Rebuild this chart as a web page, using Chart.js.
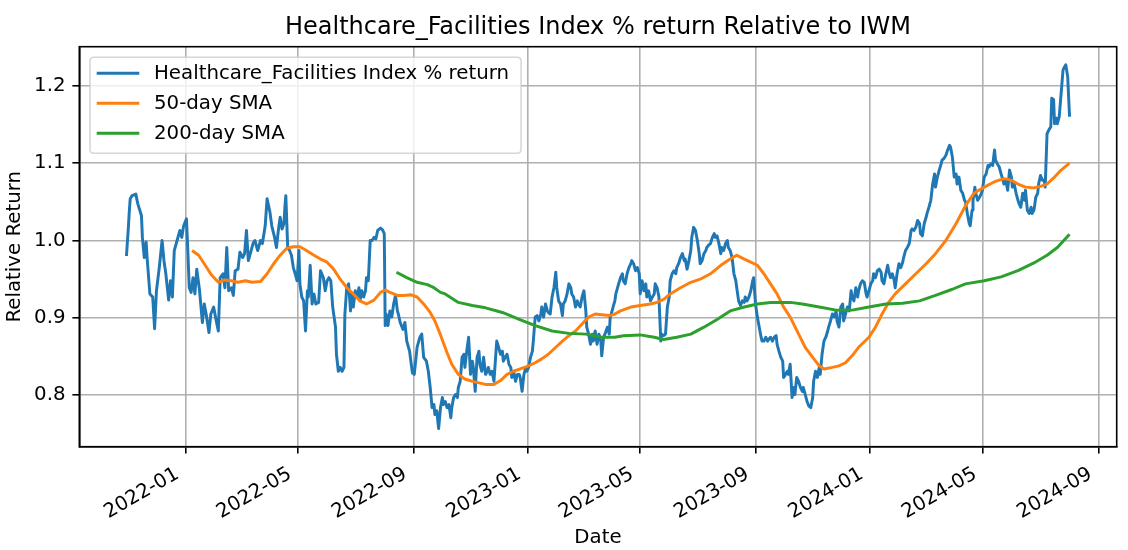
<!DOCTYPE html>
<html>
<head>
<meta charset="utf-8">
<script src="https://cdn.jsdelivr.net/npm/chart.js@4.4.0/dist/chart.umd.min.js"></script>
<style>
html,body{margin:0;padding:0;background:#ffffff;}
#wrap{width:1128px;height:550px;}
</style>
</head>
<body>
<div id="wrap"><canvas id="c" width="1128" height="550"></canvas></div>
<script>
const chartTitle = 'Healthcare_Facilities Index % return Relative to IWM';
const seriesLabels = ['Healthcare_Facilities Index % return', '50-day SMA', '200-day SMA'];
const xAxisTitle = 'Date';
const yAxisTitle = 'Relative Return';
const xTickLabels = ['2022-01','2022-05','2022-09','2023-01','2023-05','2023-09','2024-01','2024-05','2024-09'];
const yTickValues = [0.8, 0.9, 1.0, 1.1, 1.2];

const indexDates = [
'2021-10-30','2021-11-01','2021-11-02','2021-11-03','2021-11-05','2021-11-09','2021-11-11','2021-11-15','2021-11-16','2021-11-18',
'2021-11-20','2021-11-21','2021-11-24','2021-11-27','2021-11-29','2021-12-01','2021-12-04','2021-12-07','2021-12-09','2021-12-11',
'2021-12-14','2021-12-16','2021-12-18','2021-12-20','2021-12-23','2021-12-26','2021-12-28','2021-12-30','2022-01-02','2022-01-03',
'2022-01-05','2022-01-07','2022-01-09','2022-01-11','2022-01-13','2022-01-16','2022-01-19','2022-01-21','2022-01-23','2022-01-26',
'2022-01-28','2022-01-31','2022-02-02','2022-02-05','2022-02-07','2022-02-10','2022-02-12','2022-02-14','2022-02-16','2022-02-19',
'2022-02-21','2022-02-23','2022-02-26','2022-02-28','2022-03-03','2022-03-05','2022-03-07','2022-03-09','2022-03-12','2022-03-14',
'2022-03-16','2022-03-19','2022-03-22','2022-03-24','2022-03-27','2022-03-29','2022-04-01','2022-04-03','2022-04-06','2022-04-08',
'2022-04-10','2022-04-12','2022-04-14','2022-04-16','2022-04-17','2022-04-18','2022-04-20','2022-04-22','2022-04-24','2022-04-26',
'2022-04-28','2022-04-30','2022-05-02','2022-05-03','2022-05-05','2022-05-07','2022-05-09','2022-05-11','2022-05-12','2022-05-14',
'2022-05-16','2022-05-18','2022-05-20','2022-05-23','2022-05-25','2022-05-28','2022-05-30','2022-06-01','2022-06-03','2022-06-05',
'2022-06-07','2022-06-10','2022-06-11','2022-06-13','2022-06-15','2022-06-17','2022-06-19','2022-06-20','2022-06-22','2022-06-24',
'2022-06-26','2022-06-27','2022-06-29','2022-07-01','2022-07-03','2022-07-05','2022-07-06','2022-07-08','2022-07-10','2022-07-12',
'2022-07-13','2022-07-15','2022-07-17','2022-07-19','2022-07-21','2022-07-23','2022-07-25','2022-07-28','2022-07-30','2022-08-01',
'2022-08-02','2022-08-03','2022-08-05','2022-08-07','2022-08-09','2022-08-11','2022-08-13','2022-08-15','2022-08-16','2022-08-18',
'2022-08-21','2022-08-23','2022-08-25','2022-08-28','2022-08-31','2022-09-02','2022-09-05','2022-09-08','2022-09-10','2022-09-12',
'2022-09-15','2022-09-17','2022-09-19','2022-09-21','2022-09-23','2022-09-24','2022-09-26','2022-09-28','2022-09-30','2022-10-02',
'2022-10-03','2022-10-05','2022-10-07','2022-10-09','2022-10-11','2022-10-12','2022-10-14','2022-10-16','2022-10-18','2022-10-19',
'2022-10-21','2022-10-23','2022-10-25','2022-10-26','2022-10-28','2022-10-30','2022-11-01','2022-11-03','2022-11-04','2022-11-06',
'2022-11-08','2022-11-10','2022-11-11','2022-11-13','2022-11-15','2022-11-17','2022-11-19','2022-11-20','2022-11-22','2022-11-24',
'2022-11-26','2022-11-28','2022-11-29','2022-12-01','2022-12-03','2022-12-05','2022-12-06','2022-12-08','2022-12-10','2022-12-12',
'2022-12-14','2022-12-15','2022-12-17','2022-12-19','2022-12-21','2022-12-23','2022-12-24','2022-12-26','2022-12-28','2022-12-30',
'2022-12-31','2023-01-02','2023-01-04','2023-01-06','2023-01-07','2023-01-09','2023-01-11','2023-01-13','2023-01-15','2023-01-16',
'2023-01-18','2023-01-20','2023-01-22','2023-01-23','2023-01-25','2023-01-27','2023-01-29','2023-01-31','2023-02-01','2023-02-03',
'2023-02-05','2023-02-07','2023-02-08','2023-02-10','2023-02-12','2023-02-14','2023-02-16','2023-02-17','2023-02-19','2023-02-21',
'2023-02-23','2023-02-24','2023-02-26','2023-02-28','2023-03-02','2023-03-04','2023-03-05','2023-03-07','2023-03-09','2023-03-11',
'2023-03-12','2023-03-14','2023-03-16','2023-03-18','2023-03-20','2023-03-21','2023-03-23','2023-03-25','2023-03-27','2023-03-29',
'2023-03-30','2023-04-01','2023-04-03','2023-04-04','2023-04-05','2023-04-08','2023-04-10','2023-04-12','2023-04-13','2023-04-15',
'2023-04-17','2023-04-19','2023-04-21','2023-04-22','2023-04-24','2023-04-26','2023-04-28','2023-04-30','2023-05-01','2023-05-03',
'2023-05-05','2023-05-07','2023-05-08','2023-05-10','2023-05-12','2023-05-14','2023-05-16','2023-05-17','2023-05-19','2023-05-21',
'2023-05-23','2023-05-24','2023-05-26','2023-05-28','2023-05-30','2023-06-01','2023-06-02','2023-06-04','2023-06-06','2023-06-08',
'2023-06-09','2023-06-11','2023-06-13','2023-06-15','2023-06-17','2023-06-18','2023-06-20','2023-06-22','2023-06-24','2023-06-25',
'2023-06-27','2023-06-29','2023-07-01','2023-07-03','2023-07-04','2023-07-06','2023-07-08','2023-07-10','2023-07-11','2023-07-13',
'2023-07-15','2023-07-17','2023-07-19','2023-07-20','2023-07-22','2023-07-24','2023-07-26','2023-07-27','2023-07-29','2023-07-31',
'2023-08-02','2023-08-03','2023-08-05','2023-08-07','2023-08-09','2023-08-11','2023-08-12','2023-08-14','2023-08-16','2023-08-18',
'2023-08-20','2023-08-21','2023-08-23','2023-08-25','2023-08-27','2023-08-29','2023-08-30','2023-09-01','2023-09-03','2023-09-05',
'2023-09-07','2023-09-08','2023-09-10','2023-09-12','2023-09-14','2023-09-15','2023-09-17','2023-09-19','2023-09-21','2023-09-23',
'2023-09-24','2023-09-26','2023-09-28','2023-09-30','2023-10-01','2023-10-03','2023-10-05','2023-10-06','2023-10-08','2023-10-10',
'2023-10-12','2023-10-13','2023-10-15','2023-10-17','2023-10-19','2023-10-21','2023-10-22','2023-10-24','2023-10-26','2023-10-28',
'2023-10-30','2023-11-01','2023-11-02','2023-11-04','2023-11-06','2023-11-08','2023-11-09','2023-11-11','2023-11-13','2023-11-15',
'2023-11-17','2023-11-18','2023-11-20','2023-11-22','2023-11-24','2023-11-26','2023-11-27','2023-11-29','2023-12-01','2023-12-03',
'2023-12-04','2023-12-06','2023-12-08','2023-12-10','2023-12-12','2023-12-13','2023-12-15','2023-12-17','2023-12-19','2023-12-20',
'2023-12-22','2023-12-24','2023-12-26','2023-12-28','2023-12-29','2023-12-31','2024-01-02','2024-01-04','2024-01-05','2024-01-07',
'2024-01-09','2024-01-11','2024-01-13','2024-01-14','2024-01-16','2024-01-18','2024-01-20','2024-01-21','2024-01-23','2024-01-25',
'2024-01-27','2024-01-28','2024-01-30','2024-02-01','2024-02-03','2024-02-05','2024-02-06','2024-02-08','2024-02-10','2024-02-12',
'2024-02-14','2024-02-15','2024-02-17','2024-02-19','2024-02-21','2024-02-23','2024-02-24','2024-02-26','2024-02-28','2024-03-01',
'2024-03-02','2024-03-04','2024-03-06','2024-03-08','2024-03-10','2024-03-11','2024-03-13','2024-03-15','2024-03-17','2024-03-18',
'2024-03-20','2024-03-22','2024-03-24','2024-03-26','2024-03-27','2024-03-29','2024-03-31','2024-04-02','2024-04-03','2024-04-05',
'2024-04-07','2024-04-09','2024-04-11','2024-04-12','2024-04-14','2024-04-16','2024-04-17','2024-04-19','2024-04-20','2024-04-22',
'2024-04-23','2024-04-25','2024-04-27','2024-04-29','2024-04-30','2024-05-02','2024-05-04','2024-05-06','2024-05-07','2024-05-09',
'2024-05-11','2024-05-13','2024-05-14','2024-05-16','2024-05-18','2024-05-20','2024-05-22','2024-05-23','2024-05-25','2024-05-27',
'2024-05-29','2024-05-31','2024-06-01','2024-06-03','2024-06-05','2024-06-07','2024-06-08','2024-06-10','2024-06-12','2024-06-14',
'2024-06-15','2024-06-17','2024-06-19','2024-06-21','2024-06-22','2024-06-24','2024-06-26','2024-06-28','2024-06-29','2024-07-01',
'2024-07-03','2024-07-05','2024-07-06','2024-07-08','2024-07-10','2024-07-12','2024-07-13','2024-07-15','2024-07-16','2024-07-18',
'2024-07-19','2024-07-21','2024-07-23','2024-07-25','2024-07-26','2024-07-28','2024-07-30','2024-08-01'
];
const indexValues = [
0.980,1.016,1.037,1.054,1.058,1.060,1.048,1.032,1.004,0.978,
0.998,0.978,0.931,0.927,0.886,0.935,0.965,1.000,0.974,0.957,
0.923,0.948,0.927,0.987,1.000,1.013,1.004,1.019,1.028,1.000,
0.939,0.933,0.952,0.931,0.963,0.935,0.894,0.918,0.905,0.881,
0.905,0.914,0.901,0.883,0.952,0.957,0.939,0.991,0.935,0.939,
0.929,0.961,0.963,0.985,0.978,0.983,1.013,0.974,0.987,0.996,
1.000,0.987,1.000,0.996,1.019,1.054,1.037,1.019,1.004,0.991,
1.013,1.030,1.015,1.022,1.043,1.058,0.991,0.987,0.981,0.965,
0.957,0.948,0.987,0.944,0.927,0.922,0.883,0.935,0.927,0.968,
0.918,0.931,0.918,0.920,0.961,0.952,0.935,0.948,0.952,0.948,
0.914,0.888,0.853,0.831,0.836,0.831,0.836,0.905,0.939,0.944,
0.909,0.931,0.914,0.935,0.927,0.939,0.922,0.935,0.927,0.935,
0.952,0.948,1.000,1.000,1.004,1.002,1.013,1.016,1.014,1.009,
0.890,0.905,0.890,0.909,0.901,0.918,0.929,0.909,0.905,0.894,
0.885,0.894,0.870,0.857,0.829,0.827,0.862,0.875,0.879,0.849,
0.844,0.831,0.810,0.784,0.788,0.775,0.780,0.757,0.784,0.797,
0.788,0.792,0.784,0.788,0.771,0.784,0.797,0.801,0.797,0.810,
0.818,0.849,0.853,0.836,0.857,0.875,0.827,0.844,0.836,0.805,
0.849,0.857,0.840,0.831,0.849,0.827,0.831,0.836,0.827,0.831,
0.818,0.853,0.870,0.862,0.853,0.857,0.844,0.849,0.853,0.840,
0.836,0.823,0.831,0.818,0.827,0.827,0.823,0.805,0.827,0.836,
0.831,0.836,0.849,0.857,0.870,0.901,0.903,0.896,0.905,0.914,
0.901,0.918,0.909,0.907,0.905,0.927,0.939,0.959,0.939,0.922,
0.918,0.903,0.918,0.922,0.931,0.944,0.939,0.931,0.927,0.914,
0.922,0.918,0.914,0.927,0.935,0.909,0.888,0.879,0.866,0.879,
0.870,0.883,0.866,0.879,0.870,0.851,0.875,0.881,0.888,0.879,
0.901,0.909,0.918,0.922,0.931,0.944,0.952,0.957,0.948,0.944,
0.957,0.965,0.970,0.974,0.970,0.961,0.965,0.957,0.931,0.948,
0.935,0.944,0.927,0.935,0.922,0.927,0.931,0.944,0.939,0.927,
0.870,0.879,0.877,0.879,0.914,0.927,0.948,0.957,0.961,0.957,
0.965,0.970,0.978,0.983,0.974,0.976,0.963,0.974,0.987,1.004,
1.017,1.013,1.000,0.983,0.970,0.974,0.983,0.987,0.991,0.994,
0.996,1.004,1.009,1.004,1.006,0.996,0.983,0.991,0.987,0.996,
1.000,0.991,0.987,0.978,0.957,0.948,0.939,0.922,0.916,0.922,
0.920,0.927,0.922,0.927,0.935,0.948,0.952,0.918,0.901,0.888,
0.875,0.870,0.870,0.875,0.870,0.872,0.875,0.870,0.875,0.877,
0.866,0.857,0.849,0.844,0.823,0.827,0.831,0.827,0.840,0.797,
0.810,0.801,0.823,0.818,0.810,0.805,0.810,0.801,0.792,0.786,
0.784,0.797,0.818,0.831,0.823,0.836,0.827,0.853,0.870,0.875,
0.883,0.888,0.896,0.905,0.901,0.909,0.896,0.888,0.914,0.918,
0.896,0.905,0.914,0.909,0.935,0.927,0.922,0.939,0.927,0.935,
0.944,0.948,0.946,0.931,0.927,0.935,0.944,0.948,0.957,0.952,
0.961,0.963,0.959,0.948,0.944,0.957,0.968,0.961,0.952,0.957,
0.948,0.939,0.957,0.970,0.965,0.972,0.978,0.987,0.991,0.996,
1.013,1.015,1.013,1.017,1.026,1.022,1.009,1.006,1.022,1.030,
1.035,1.043,1.052,1.073,1.086,1.069,1.082,1.091,1.099,1.104,
1.106,1.110,1.117,1.123,1.121,1.108,1.082,1.086,1.073,1.082,
1.065,1.061,1.052,1.050,1.035,1.022,1.019,1.039,1.052,1.069,
1.061,1.052,1.056,1.061,1.065,1.082,1.086,1.097,1.095,1.099,
1.097,1.117,1.104,1.099,1.095,1.086,1.078,1.073,1.078,1.065,
1.091,1.082,1.069,1.073,1.061,1.052,1.048,1.043,1.061,1.052,
1.065,1.039,1.035,1.043,1.035,1.039,1.056,1.061,1.073,1.084,
1.078,1.078,1.069,1.138,1.143,1.147,1.184,1.182,1.151,1.158,
1.151,1.160,1.190,1.220,1.223,1.227,1.212,1.160
];

const sma50Dates = [
'2022-01-08','2022-01-15','2022-01-22','2022-01-29','2022-02-05','2022-02-12','2022-02-19','2022-02-26','2022-03-06','2022-03-13',
'2022-03-22','2022-03-29','2022-04-05','2022-04-12','2022-04-19','2022-04-26','2022-05-03','2022-05-10','2022-05-18','2022-05-25',
'2022-06-01','2022-06-08','2022-06-15','2022-06-22','2022-06-29','2022-07-06','2022-07-13','2022-07-21','2022-07-28','2022-08-02',
'2022-08-07','2022-08-15','2022-08-22','2022-08-29','2022-09-05','2022-09-12','2022-09-19','2022-09-24','2022-09-30','2022-10-07',
'2022-10-12','2022-10-19','2022-10-26','2022-11-03','2022-11-10','2022-11-17','2022-11-26','2022-12-03','2022-12-10','2022-12-17',
'2022-12-24','2022-12-31','2023-01-09','2023-01-16','2023-01-23','2023-01-31','2023-02-07','2023-02-14','2023-02-21','2023-02-28',
'2023-03-07','2023-03-14','2023-03-21','2023-03-29','2023-04-04','2023-04-10','2023-04-21','2023-05-01','2023-05-12','2023-05-19',
'2023-05-26','2023-06-02','2023-06-13','2023-06-24','2023-07-04','2023-07-15','2023-07-26','2023-08-05','2023-08-12','2023-08-20',
'2023-08-27','2023-09-03','2023-09-10','2023-09-17','2023-09-24','2023-10-01','2023-10-08','2023-10-17','2023-10-24','2023-11-01',
'2023-11-08','2023-11-13','2023-11-22','2023-11-29','2023-12-06','2023-12-13','2023-12-20','2023-12-31','2024-01-07','2024-01-14',
'2024-01-21','2024-01-28','2024-02-08','2024-02-19','2024-03-01','2024-03-11','2024-03-22','2024-04-02','2024-04-12','2024-04-21',
'2024-05-02','2024-05-13','2024-05-23','2024-05-31','2024-06-07','2024-06-15','2024-06-24','2024-07-01','2024-07-08','2024-07-16',
'2024-07-23','2024-08-01'
];
const sma50Values = [
0.987,0.981,0.968,0.955,0.946,0.949,0.948,0.946,0.948,0.946,
0.947,0.957,0.970,0.981,0.990,0.992,0.992,0.987,0.981,0.976,
0.972,0.963,0.950,0.939,0.931,0.922,0.918,0.923,0.933,0.936,
0.933,0.929,0.929,0.930,0.927,0.918,0.907,0.896,0.878,0.855,
0.840,0.827,0.821,0.818,0.816,0.814,0.814,0.819,0.827,0.831,
0.834,0.837,0.842,0.847,0.853,0.862,0.870,0.877,0.883,0.892,
0.901,0.905,0.904,0.903,0.905,0.909,0.914,0.916,0.918,0.920,
0.924,0.931,0.939,0.946,0.950,0.957,0.968,0.976,0.981,0.976,
0.972,0.968,0.957,0.944,0.931,0.914,0.901,0.879,0.862,0.849,
0.838,0.834,0.836,0.838,0.842,0.851,0.862,0.875,0.888,0.905,
0.920,0.931,0.944,0.957,0.970,0.983,1.000,1.022,1.045,1.061,
1.069,1.076,1.080,1.078,1.073,1.069,1.068,1.070,1.073,1.082,
1.091,1.100
];

const sma200Dates = [
'2022-08-14','2022-08-25','2022-09-05','2022-09-16','2022-09-23','2022-09-30','2022-10-05','2022-10-19','2022-11-03','2022-11-17',
'2022-12-05','2022-12-23','2023-01-09','2023-01-27','2023-02-14','2023-03-04','2023-03-21','2023-04-04','2023-04-13','2023-05-01',
'2023-05-16','2023-05-26','2023-06-09','2023-06-24','2023-07-08','2023-07-22','2023-08-05','2023-08-20','2023-09-03','2023-09-17',
'2023-10-08','2023-10-21','2023-11-08','2023-11-26','2023-12-13','2023-12-31','2024-01-18','2024-02-05','2024-02-23','2024-03-11',
'2024-03-29','2024-04-12','2024-05-02','2024-05-20','2024-06-07','2024-06-24','2024-07-08','2024-07-19','2024-08-01'
];
const sma200Values = [
0.959,0.952,0.946,0.943,0.939,0.933,0.931,0.920,0.916,0.913,
0.907,0.898,0.890,0.883,0.880,0.879,0.875,0.875,0.877,0.878,
0.875,0.872,0.875,0.879,0.888,0.898,0.909,0.914,0.918,0.920,
0.920,0.918,0.914,0.910,0.910,0.914,0.918,0.919,0.922,0.929,
0.937,0.944,0.948,0.953,0.961,0.971,0.981,0.991,1.008
];

const seriesColors = ['#1f77b4', '#ff7f0e', '#2ca02c'];

// ---- build library inputs from the arrays ----
function toPoints(dates, values) {
  return dates.map((d, i) => ({ x: Date.parse(d), y: values[i] }));
}
const xTickValues = xTickLabels.map(l => Date.parse(l + '-01'));
const allX = indexDates.concat(sma50Dates, sma200Dates).map(d => Date.parse(d));
const allY = indexValues.concat(sma50Values, sma200Values);
const xLo = Math.min(...allX), xHi = Math.max(...allX);
const yLo = Math.min(...allY), yHi = Math.max(...allY);
const xPad = (xHi - xLo) * 0.05, yPad = (yHi - yLo) * 0.05;

const FONT = '"DejaVu Sans", "Liberation Sans", sans-serif';
const FS = 19.8;
const TITLE_FS = 24;

Chart.defaults.font.family = FONT;
Chart.defaults.color = '#000';

const frameAndText = {
  id: 'frameAndText',
  afterDatasetsDraw(chart) {
    const ctx = chart.ctx, ca = chart.chartArea;
    ctx.save();
    // legend (matplotlib-like, inside upper left)
    ctx.font = FS + 'px ' + FONT;
    const textW = Math.max(...seriesLabels.map(l => ctx.measureText(l).width));
    const x0 = ca.left + 10.7, y0 = ca.top + 10.6;
    const w = 64 + textW + 12, h = 96, r = 4;
    ctx.beginPath();
    ctx.moveTo(x0 + r, y0);
    ctx.lineTo(x0 + w - r, y0); ctx.quadraticCurveTo(x0 + w, y0, x0 + w, y0 + r);
    ctx.lineTo(x0 + w, y0 + h - r); ctx.quadraticCurveTo(x0 + w, y0 + h, x0 + w - r, y0 + h);
    ctx.lineTo(x0 + r, y0 + h); ctx.quadraticCurveTo(x0, y0 + h, x0, y0 + h - r);
    ctx.lineTo(x0, y0 + r); ctx.quadraticCurveTo(x0, y0, x0 + r, y0);
    ctx.closePath();
    ctx.fillStyle = 'rgba(255,255,255,0.8)';
    ctx.fill();
    ctx.strokeStyle = 'rgba(204,204,204,0.8)';
    ctx.lineWidth = 1.6;
    ctx.stroke();
    seriesLabels.forEach((lab, i) => {
      const yy = y0 + 16 + i * 30;
      ctx.beginPath();
      ctx.moveTo(x0 + 6.7, yy);
      ctx.lineTo(x0 + 49.3, yy);
      ctx.strokeStyle = seriesColors[i];
      ctx.lineWidth = 2.96;
      ctx.stroke();
      ctx.fillStyle = '#000';
      ctx.textAlign = 'left';
      ctx.textBaseline = 'middle';
      ctx.fillText(lab, x0 + 64, yy + 1);
    });
    ctx.restore();
  },
  afterDraw(chart) {
    const ctx = chart.ctx, ca = chart.chartArea;
    ctx.save();
    // full axes frame
    ctx.strokeStyle = '#000';
    ctx.lineWidth = 1.6;
    ctx.strokeRect(ca.left, ca.top, ca.right - ca.left, ca.bottom - ca.top);
    // title
    ctx.font = TITLE_FS + 'px ' + FONT;
    ctx.fillStyle = '#000';
    ctx.textAlign = 'center';
    ctx.textBaseline = 'alphabetic';
    ctx.fillText(chartTitle, (ca.left + ca.right) / 2, ca.top - 13);
    ctx.restore();
  }
};

const gridOpts = {
  color: '#b0b0b0', lineWidth: 1.6,
  drawTicks: true, tickLength: 6.9, tickColor: '#000', tickWidth: 1.6
};

new Chart(document.getElementById('c'), {
  type: 'line',
  data: {
    datasets: [
      { label: seriesLabels[0], data: toPoints(indexDates, indexValues), borderColor: seriesColors[0],
        borderWidth: 2.96, pointRadius: 0, tension: 0, fill: false, order: 2, borderJoinStyle: 'round' },
      { label: seriesLabels[1], data: toPoints(sma50Dates, sma50Values), borderColor: seriesColors[1],
        borderWidth: 2.96, pointRadius: 0, tension: 0, fill: false, order: 1, borderJoinStyle: 'round' },
      { label: seriesLabels[2], data: toPoints(sma200Dates, sma200Values), borderColor: seriesColors[2],
        borderWidth: 2.96, pointRadius: 0, tension: 0, fill: false, order: 0, borderJoinStyle: 'round' }
    ]
  },
  options: {
    responsive: false,
    animation: false,
    events: [],
    layout: { padding: { top: 46.7, right: 11.3, left: 0, bottom: 0 } },
    plugins: { legend: { display: false }, title: { display: false }, tooltip: { enabled: false } },
    scales: {
      x: {
        type: 'linear',
        min: xLo - xPad, max: xHi + xPad,
        afterBuildTicks: s => { s.ticks = xTickValues.map(v => ({ value: v })); },
        afterFit: s => { s.height = 103.3; },
        ticks: {
          autoSkip: false, minRotation: 30, maxRotation: 30, color: '#000',
          font: { size: FS, family: FONT }, padding: 8.8, labelOffset: -8,
          callback: v => new Date(v).toISOString().slice(0, 7)
        },
        grid: gridOpts,
        border: { display: true, color: '#000', width: 1.6 },
        title: { display: true, text: xAxisTitle, color: '#000', font: { size: FS, family: FONT }, padding: { top: 0, bottom: 0 } }
      },
      y: {
        type: 'linear',
        min: yLo - yPad, max: yHi + yPad,
        afterBuildTicks: s => { s.ticks = yTickValues.map(v => ({ value: v })); },
        afterFit: s => { s.width = 79.3; },
        ticks: {
          color: '#000', font: { size: FS, family: FONT }, padding: 6.9,
          callback: v => Number(v).toFixed(1)
        },
        grid: gridOpts,
        border: { display: true, color: '#000', width: 1.6 },
        title: { display: true, text: yAxisTitle, color: '#000', font: { size: FS, family: FONT }, padding: { top: 3, bottom: 0 } }
      }
    }
  },
  plugins: [frameAndText]
});
</script>
</body>
</html>
